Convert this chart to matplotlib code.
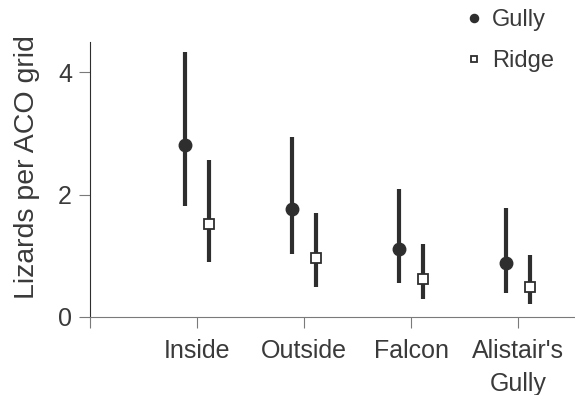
import matplotlib.pyplot as plt
import numpy as np

plt.rcParams['font.family'] = ['Liberation Sans', 'DejaVu Sans']

# Data
sites = ["Inside", "Outside", "Falcon", "Alistair's\nGully"]
gully_mean = [2.82, 1.76, 1.11, 0.88]
gully_low = [1.81, 1.03, 0.55, 0.39]
gully_high = [4.33, 2.94, 2.09, 1.79]
ridge_mean = [1.52, 0.96, 0.62, 0.49]
ridge_low = [0.90, 0.49, 0.29, 0.21]
ridge_high = [2.56, 1.70, 1.19, 1.01]

dark = '#2e2e2e'
axcol = '#7a7a7a'
txt = '#3a3a3a'

fig = plt.figure(figsize=(5.75, 3.95), dpi=100)
ax = fig.add_axes([0.1565, 0.1975, 0.8435, 0.6965])

x = np.arange(1, len(sites) + 1)
off = 0.11

gm = np.array(gully_mean)
rm = np.array(ridge_mean)

ax.vlines(x - off, gully_low, gully_high, color=dark, lw=3.0)
ax.plot(x - off, gm, 'o', color=dark, ms=9, label='Gully')
ax.vlines(x + off, ridge_low, ridge_high, color=dark, lw=3.0)
ax.plot(x + off, rm, 's', mfc='white', mec=dark, mew=1.3, ms=7.5, label='Ridge')

ax.set_xlim(0, 4.53)
ax.set_ylim(0, 4.5)
ax.set_xticks([0] + list(x))
ax.set_xticklabels([''] + sites, linespacing=1.45)
ax.set_yticks([0, 2, 4])

for s in ['top', 'right']:
    ax.spines[s].set_visible(False)
ax.spines['left'].set_color(dark)
ax.spines['bottom'].set_color(axcol)
ax.tick_params(axis='y', colors=axcol, labelcolor=txt, labelsize=18, length=8, pad=5)
ax.tick_params(axis='x', colors=axcol, labelcolor=txt, labelsize=18, length=8, pad=8)
ax.set_ylabel('Lizards per ACO grid', fontsize=20.5, color=txt)
ax.yaxis.set_label_coords(-0.103, 0.545)

leg = fig.legend(loc='upper right', bbox_to_anchor=(1.0, 1.03), frameon=False,
                 fontsize=17, handletextpad=0.25, labelspacing=0.8,
                 markerscale=0.65, handlelength=1.0)
for t in leg.get_texts():
    t.set_color(txt)

fig.savefig('out.png', dpi=100)
